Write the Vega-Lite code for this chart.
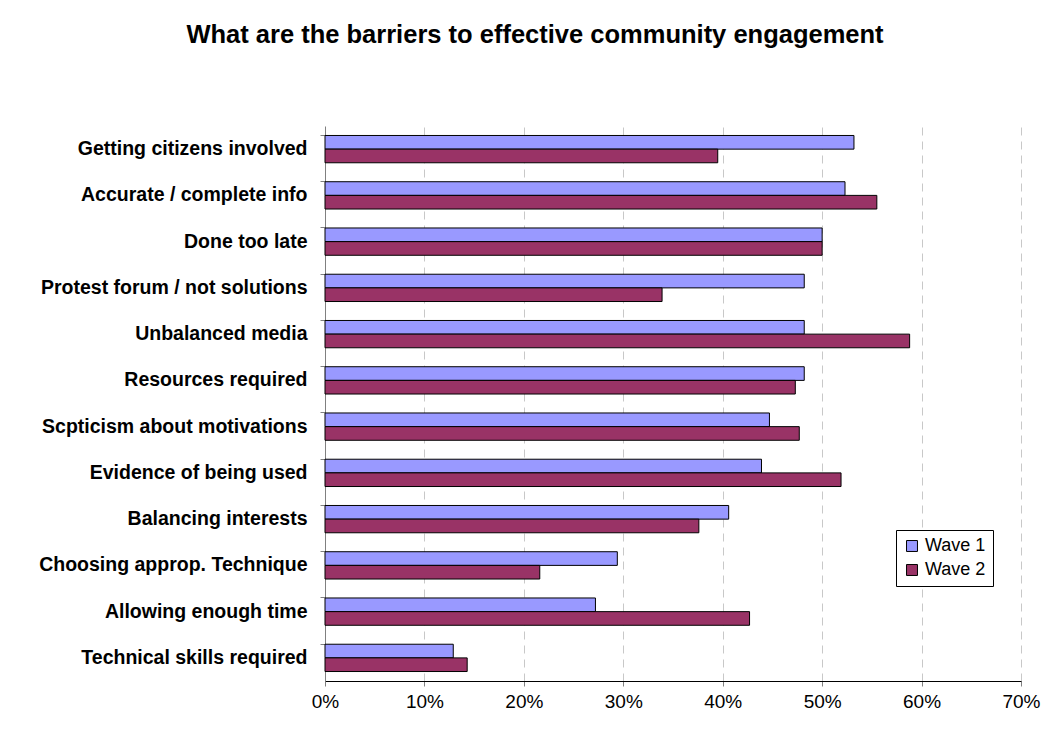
{
  "$schema": "https://vega.github.io/schema/vega-lite/v6.json",
  "width": 696,
  "height": 555,
  "autosize": {"type": "none"},
  "padding": {"left": 325, "top": 126, "right": 32, "bottom": 57},
  "background": "white",
  "title": {
    "text": "What are the barriers to effective community engagement",
    "font": "Liberation Sans",
    "fontSize": 25.5,
    "fontWeight": "bold",
    "color": "black",
    "anchor": "middle",
    "frame": "group",
    "dx": -138,
    "offset": 78
  },
  "data": {
    "values": [
      {"barrier": "Getting citizens involved", "wave": "Wave 1", "value": 0.532},
      {"barrier": "Getting citizens involved", "wave": "Wave 2", "value": 0.395},
      {"barrier": "Accurate / complete info", "wave": "Wave 1", "value": 0.523},
      {"barrier": "Accurate / complete info", "wave": "Wave 2", "value": 0.555},
      {"barrier": "Done too late", "wave": "Wave 1", "value": 0.500},
      {"barrier": "Done too late", "wave": "Wave 2", "value": 0.500},
      {"barrier": "Protest forum / not solutions", "wave": "Wave 1", "value": 0.482},
      {"barrier": "Protest forum / not solutions", "wave": "Wave 2", "value": 0.339},
      {"barrier": "Unbalanced media", "wave": "Wave 1", "value": 0.482},
      {"barrier": "Unbalanced media", "wave": "Wave 2", "value": 0.588},
      {"barrier": "Resources required", "wave": "Wave 1", "value": 0.482},
      {"barrier": "Resources required", "wave": "Wave 2", "value": 0.473},
      {"barrier": "Scpticism about motivations", "wave": "Wave 1", "value": 0.447},
      {"barrier": "Scpticism about motivations", "wave": "Wave 2", "value": 0.477},
      {"barrier": "Evidence of being used", "wave": "Wave 1", "value": 0.439},
      {"barrier": "Evidence of being used", "wave": "Wave 2", "value": 0.519},
      {"barrier": "Balancing interests", "wave": "Wave 1", "value": 0.406},
      {"barrier": "Balancing interests", "wave": "Wave 2", "value": 0.376},
      {"barrier": "Choosing approp. Technique", "wave": "Wave 1", "value": 0.294},
      {"barrier": "Choosing approp. Technique", "wave": "Wave 2", "value": 0.216},
      {"barrier": "Allowing enough time", "wave": "Wave 1", "value": 0.272},
      {"barrier": "Allowing enough time", "wave": "Wave 2", "value": 0.427},
      {"barrier": "Technical skills required", "wave": "Wave 1", "value": 0.129},
      {"barrier": "Technical skills required", "wave": "Wave 2", "value": 0.143}
    ]
  },
  "mark": {"type": "bar", "stroke": "black", "strokeWidth": 1},
  "encoding": {
    "y": {
      "field": "barrier",
      "type": "nominal",
      "sort": null,
      "scale": {"paddingInner": 0.41, "paddingOuter": 0.205},
      "axis": {
        "title": null,
        "bandPosition": 0,
        "domainColor": "#808080",
        "tickColor": "#808080",
        "tickSize": 5,
        "labelFont": "Liberation Sans",
        "labelFontSize": 19.5,
        "labelFontWeight": "bold",
        "labelColor": "black",
        "labelPadding": 13,
        "labelLimit": 400,
        "labelBound": false,
        "grid": false
      }
    },
    "yOffset": {"field": "wave", "type": "nominal", "scale": {"paddingInner": 0, "paddingOuter": 0}},
    "x": {
      "field": "value",
      "type": "quantitative",
      "scale": {"domain": [0, 0.7], "nice": false},
      "axis": {
        "title": null,
        "format": ".0%",
        "values": [0, 0.1, 0.2, 0.3, 0.4, 0.5, 0.6, 0.7],
        "domainColor": "black",
        "tickColor": "#808080",
        "tickSize": 5,
        "labelFont": "Liberation Sans",
        "labelFontSize": 19,
        "labelColor": "black",
        "labelPadding": 6,
        "labelFlush": false,
        "labelBound": false,
        "grid": true,
        "gridColor": "#c8c8c8",
        "gridDash": [8, 6],
        "gridWidth": 1
      }
    },
    "color": {
      "field": "wave",
      "type": "nominal",
      "scale": {"domain": ["Wave 1", "Wave 2"], "range": ["#9999FF", "#993366"]},
      "legend": {
        "title": null,
        "orient": "none",
        "legendX": 571,
        "legendY": 404,
        "symbolType": "square",
        "symbolSize": 120,
        "symbolStrokeColor": "black",
        "symbolStrokeWidth": 1,
        "labelFont": "Liberation Sans",
        "labelFontSize": 18,
        "labelColor": "black",
        "rowPadding": 6,
        "padding": 7,
        "strokeColor": "black",
        "fillColor": "white"
      }
    }
  },
  "config": {
    "view": {"stroke": null},
    "axis": {"gridOpacity": 1}
  }
}
